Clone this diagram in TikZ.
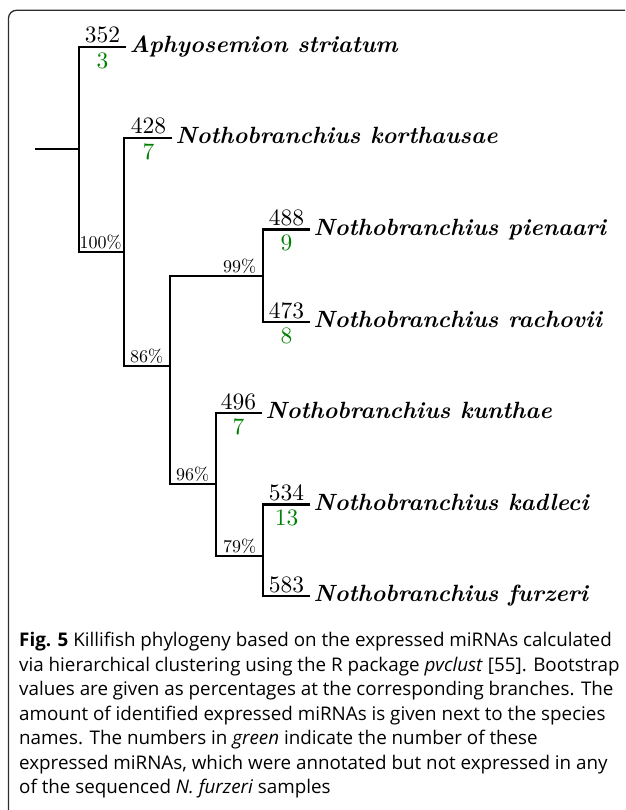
\documentclass[tikz,border=0pt]{standalone}
\usepackage{fontspec}
\newfontfamily\capfont{Open Sans}
\newfontfamily\treefont{lmroman10-regular}[Extension=.otf]
\usetikzlibrary{calc}
\definecolor{mirgreen}{RGB}{0,128,0}
\definecolor{framegray}{RGB}{45,45,45}

\begin{document}
\begin{tikzpicture}[x=1pt,y=-1pt,
  branch/.style={line width=2.2pt},
  count/.style={font=\treefont\fontsize{23.5}{23.5}\selectfont,inner sep=0pt},
  missing/.style={font=\treefont\fontsize{23.5}{23.5}\selectfont,inner sep=0pt,text=mirgreen},
  boot/.style={font=\treefont\fontsize{18}{18}\selectfont,inner sep=0pt},
  species/.style={font=\fontsize{23.5}{23.5}\selectfont\bfseries\itshape,inner sep=0pt}]
\useasboundingbox (0,0) rectangle (625,810);
\clip (0,0) rectangle (625,810);

% frame around figure and caption
\draw[framegray,line width=1.3pt,rounded corners=8pt] (8.5,10.3) rectangle (640,830);

% tips
\coordinate (aph) at (126,46.7);
\coordinate (kor) at (172,137.7);
\coordinate (pie) at (310,229.5);
\coordinate (rac) at (310,322);
\coordinate (kun) at (262,413);
\coordinate (kad) at (310,504.5);
\coordinate (fur) at (310,596);
% inner nodes
\coordinate (stub) at (35,149.2);
\coordinate (root) at (79,149.2);
\coordinate (n100) at (124,251.7);
\coordinate (n86) at (170,366);
\coordinate (n99) at (263,276);
\coordinate (n96) at (216,484);
\coordinate (n79) at (263,556);

% draw branches
\draw[branch] (stub) -- (root);
\draw[branch] (aph) -| (root) |- (n100);
\draw[branch] (kor) -| (n100) |- (n86);
\draw[branch] (n99) -| (n86) |- (n96);
\draw[branch] (pie) -| (n99) |- (rac);
\draw[branch] (kun) -| (n96) |- (n79);
\draw[branch] (kad) -| (n79) |- (fur);

% bootstrap values
\foreach \n/\p in {n100/100,n86/86,n99/99,n96/96,n79/79}
{
	\node[boot,anchor=base,xshift=-23.5pt,yshift=3.5pt] (b\n) at (\n) {\p\%};
}

% miRNA counts and species names
\foreach \t/\c/\name in {aph/352/Aphyosemion striatum,kor/428/Nothobranchius korthausae,
  pie/488/Nothobranchius pienaari,rac/473/Nothobranchius rachovii,
  kun/496/Nothobranchius kunthae,kad/534/Nothobranchius kadleci,fur/583/Nothobranchius furzeri}
{
	\node[count,anchor=base,xshift=-23.5pt,yshift=4pt] (c\t) at (\t) {\c};
	\node[species,anchor=base west,xshift=3.5pt,yshift=-5.5pt] (s\t) at (\t) {\name};
}
\foreach \t/\g in {aph/3,kor/7,pie/9,rac/8,kun/7,kad/13}
{
	\node[missing,anchor=north,xshift=-23.5pt,yshift=-5.5pt] (g\t) at (\t) {\g};
}

% caption
\node[anchor=north west,align=left,inner sep=0pt,
  font=\capfont\fontsize{18.8}{24.5}\selectfont] (caption) at (19,632)
  {\textbf{Fig. 5} Killifish phylogeny based on the expressed miRNAs calculated\\
   via hierarchical clustering using the R package \textit{pvclust} [55]. Bootstrap\\
   values are given as percentages at the corresponding branches. The\\
   amount of identified expressed miRNAs is given next to the species\\
   names. The numbers in \textit{green} indicate the number of these\\
   expressed miRNAs, which were annotated but not expressed in any\\
   of the sequenced \textit{N. furzeri} samples};
\end{tikzpicture}
\end{document}
